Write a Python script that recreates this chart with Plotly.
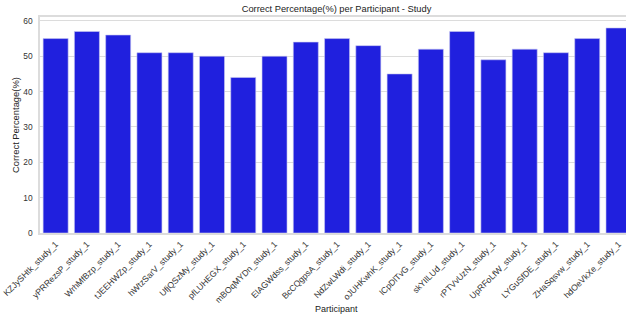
import plotly.graph_objects as go

participants = ["KZJySHtk_study_1", "yPRRezsP_study_1", "WrhMfBzp_study_1", "tJEEHWZp_study_1",
                "hWtzSarV_study_1", "UfjQSzMy_study_1", "pfLUHEGX_study_1", "mBOqMYDn_study_1",
                "ElAGWdss_study_1", "BcCQgpsA_study_1", "NdZwLWdi_study_1", "oJUHKwhK_study_1",
                "lCpDlTvG_study_1", "skYIlLUd_study_1", "rPTVvUzN_study_1", "UpRFoLfW_study_1",
                "LYGuSfDE_study_1", "ZHaSqsvw_study_1", "hdOeVkXe_study_1"]
correct_pct = [55, 57, 56, 51, 51, 50, 44, 50, 54, 55, 53, 45, 52, 57, 49, 52, 51, 55, 58]
y_ticks = [0, 10, 20, 30, 40, 50, 60]

FONT = "Liberation Sans, Arial, sans-serif"
GRID = "#dcdcdc"
H = 316
TXT = "#333333"

xpos = list(range(len(participants)))

fig = go.Figure(go.Bar(
    x=xpos, y=correct_pct,
    marker=dict(color="#2020DE", line=dict(color="#c8c8f0", width=0.6)),
))

annotations = [
    dict(text="Participant", xref="paper", x=0.506, xanchor="center",
         yref="paper", y=-(309 - 233.3) / (H - 17 - 83), yanchor="middle",
         showarrow=False, font=dict(family=FONT, size=9, color="#222222")),
    dict(text="Correct Percentage(%)", xref="paper", x=-(40 - 15) / 586, xanchor="center",
         yref="paper", y=0.5, yanchor="middle", textangle=-90,
         showarrow=False, font=dict(family=FONT, size=9.4, color="#222222")),
]

fig.update_layout(
    width=626, height=H,
    margin=dict(l=40, r=0, t=17, b=83, autoexpand=False),
    paper_bgcolor="white", plot_bgcolor="white",
    bargap=0.2,
    showlegend=False,
    font=dict(family=FONT, size=8, color=TXT),
    title=dict(text="Correct Percentage(%) per Participant - Study",
               font=dict(family=FONT, size=9.3, color="#222222"),
               xref="paper", x=0.506, xanchor="center",
               yref="container", y=1 - 8.5 / H, yanchor="middle", automargin=False),
    annotations=annotations,
)
fig.update_xaxes(
    tickmode="array", tickvals=xpos, ticktext=participants,
    tickangle=-45, ticklabeloverflow="allow", ticklabelstandoff=1,
    tickfont=dict(family=FONT, size=8.6, color=TXT),
    range=[-0.5, 18.24], automargin=False,
    showgrid=False, showline=True, linecolor=GRID, linewidth=1.5, mirror=True,
    ticks="",
)
fig.update_yaxes(
    range=[0, 61.1], tickmode="array", tickvals=y_ticks, automargin=False,
    showgrid=True, gridcolor=GRID, gridwidth=1,
    showline=True, linecolor=GRID, linewidth=1.5, mirror=True,
    zeroline=False, ticks="", ticklabelstandoff=4,
    tickfont=dict(family=FONT, size=8.4, color=TXT),
)

fig.write_html("out.html", config={"displayModeBar": False},
               post_script="document.body.style.margin='0';document.body.style.overflow='hidden';")
